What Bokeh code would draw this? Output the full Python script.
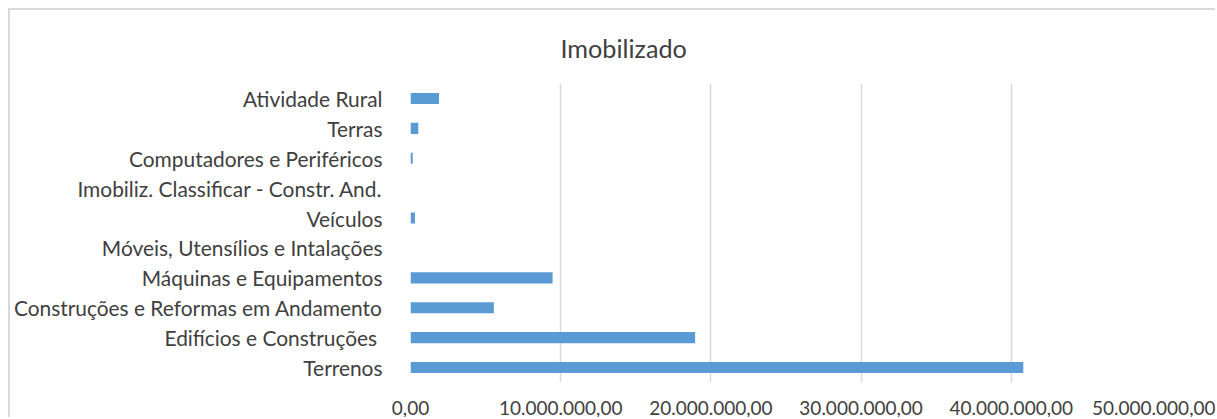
from bokeh.plotting import figure
from bokeh.models import FactorRange, Range1d, FixedTicker, ColumnDataSource
from bokeh.embed import file_html
from bokeh.resources import INLINE

categories = [
    "Terrenos",
    "Edifícios e  Construções",
    "Construções e Reformas em Andamento",
    "Máquinas e Equipamentos",
    "Móveis, Utensílios e Intalações",
    "Veículos",
    "Imobiliz. Classificar - Constr. And.",
    "Computadores e Periféricos",
    "Terras",
    "Atividade Rural",
]
values = [40800000, 18950000, 5550000, 9460000, 0, 300000, 0, 150000, 520000, 1900000]
tick_values = [0, 10000000, 20000000, 30000000, 40000000, 50000000]
tick_labels = ["0,00", "10.000.000,00", "20.000.000,00", "30.000.000,00", "40.000.000,00", "50.000.000,00"]

FONT = "Lato"
TXT = "#404040"

src = ColumnDataSource(dict(cat=categories, val=values))

p = figure(
    width=1207, height=409,
    y_range=FactorRange(factors=categories, range_padding=0),
    x_range=Range1d(0, 50000000),
    output_backend="svg", toolbar_location=None,
    min_border_left=400, min_border_right=56, min_border_top=72, min_border_bottom=37,
)
p.margin = (8, 0, 0, 8)
p.styles = {"border-left": "2px solid #d9d9d9", "border-top": "2px solid #d9d9d9"}

p.hbar(y="cat", right="val", left=0, height=0.37, source=src,
       fill_color="#5b9bd5", line_color=None)

p.title.text = "Imobilizado"
p.title.align = "left"
p.title.offset = 150
p.title.text_font = FONT
p.title.text_font_size = "25.2px"
p.title.text_font_style = "normal"
p.title.text_color = TXT
p.title.standoff = 41

p.outline_line_color = None
p.ygrid.grid_line_color = None
p.xgrid.grid_line_color = "#d9d9d9"
p.xgrid.grid_line_width = 1.5
p.xaxis.ticker = FixedTicker(ticks=tick_values)
p.xaxis.major_label_overrides = {v: l for v, l in zip(tick_values, tick_labels)}

for ax in (p.xaxis, p.yaxis):
    ax.axis_line_color = None
    ax.major_tick_line_color = None
    ax.minor_tick_line_color = None
    ax.major_tick_out = 0
    ax.major_tick_in = 0
    ax.major_label_text_font = FONT
    ax.major_label_text_color = TXT

p.xaxis.major_label_text_font_size = "19px"
p.xaxis.major_label_standoff = 18
p.yaxis.major_label_text_font_size = "20.9px"
p.yaxis.major_label_standoff = 28

open("out.html", "w").write(file_html(p, INLINE))
